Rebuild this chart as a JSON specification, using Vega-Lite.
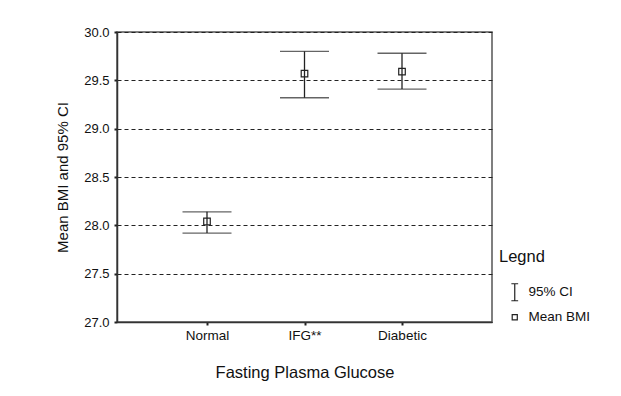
{
  "$schema": "https://vega.github.io/schema/vega-lite/v6.json",
  "width": 375,
  "height": 290,
  "padding": {"left": 55, "top": 26, "right": 5, "bottom": 5},
  "background": "white",
  "config": {
    "font": "Liberation Sans",
    "view": {"stroke": "#555", "strokeWidth": 1.5},
    "axis": {"labelColor": "#111", "titleColor": "#111", "titleFontWeight": "normal", "domainColor": "#333", "domainWidth": 1.5, "tickColor": "#222", "tickSize": 3, "tickWidth": 2}
  },
  "data": {
    "values": [
      {"group": "Normal", "mean": 28.04, "lower": 27.92, "upper": 28.14, "kind": "Mean BMI"},
      {"group": "IFG**", "mean": 29.57, "lower": 29.32, "upper": 29.80, "kind": "Mean BMI"},
      {"group": "Diabetic", "mean": 29.59, "lower": 29.41, "upper": 29.78, "kind": "Mean BMI"}
    ]
  },
  "encoding": {
    "x": {
      "field": "group", "type": "nominal", "sort": null,
      "title": "Fasting Plasma Glucose",
      "scale": {"type": "point", "padding": 0.923},
      "axis": {"labelAngle": 0, "labelFontSize": 13.5, "labelPadding": 3, "titleFontSize": 16.5, "titlePadding": 23, "grid": false}
    }
  },
  "layer": [
    {
      "mark": {"type": "rule", "color": "#222", "strokeWidth": 1.3},
      "encoding": {
        "y": {
          "field": "lower", "type": "quantitative", "title": "Mean BMI and 95% CI",
          "scale": {"domain": [27, 30], "nice": false, "zero": false},
          "axis": {"values": [27, 27.5, 28, 28.5, 29, 29.5, 30], "format": ".1f", "labelFontSize": 13, "labelPadding": 5, "labelFlush": false, "labelOverlap": false, "grid": true, "gridDash": [4, 3], "gridColor": "#222", "gridWidth": 1.2, "titleFontSize": 15, "titlePadding": 13}
        },
        "y2": {"field": "upper"}
      }
    },
    {
      "mark": {"type": "tick", "color": "#222", "size": 49, "thickness": 1.3, "orient": "horizontal"},
      "encoding": {"y": {"field": "upper", "type": "quantitative", "title": "Mean BMI and 95% CI"}}
    },
    {
      "mark": {"type": "tick", "color": "#222", "size": 49, "thickness": 1.3, "orient": "horizontal"},
      "encoding": {"y": {"field": "lower", "type": "quantitative", "title": "Mean BMI and 95% CI"}}
    },
    {
      "mark": {"type": "point", "filled": false, "color": "#222", "size": 120, "strokeWidth": 1.2, "opacity": 1},
      "encoding": {
        "y": {"field": "mean", "type": "quantitative", "title": "Mean BMI and 95% CI"},
        "shape": {
          "field": "kind", "type": "nominal",
          "scale": {"domain": ["95% CI", "Mean BMI"], "range": ["M-0.8,-2H0.8M0,-2V2M-0.8,2H0.8", "M-0.6,-0.6H0.6V0.6H-0.6Z"]},
          "legend": {
            "orient": "none", "legendX": 382, "legendY": 217,
            "title": "Legnd", "titleFontSize": 16.5, "titleFontWeight": "normal", "titleColor": "#111", "titlePadding": 20,
            "labelFontSize": 13.5, "labelColor": "#111", "labelOffset": 7,
            "symbolSize": 72, "symbolOffset": 9, "symbolStrokeColor": "#222", "symbolFillColor": "transparent", "symbolStrokeWidth": 1.2,
            "rowPadding": 6
          }
        }
      }
    }
  ]
}
